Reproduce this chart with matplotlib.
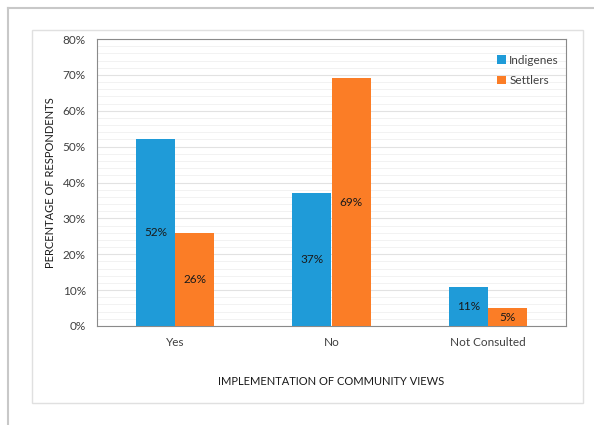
import numpy as np
import matplotlib
matplotlib.use("Agg")
from matplotlib import pyplot as plt
from matplotlib.patches import Rectangle
from matplotlib.lines import Line2D

categories = ["Yes", "No", "Not Consulted"]
indigenes = [52, 37, 11]
settlers = [26, 69, 5]
series_names = ["Indigenes", "Settlers"]

blue = "#1f9bd8"
orange = "#fb7d26"
txt = "#404040"

plt.rcParams['font.family'] = ['Lato', 'DejaVu Sans']

W, H = 594, 425
fig = plt.figure(figsize=(W / 100, H / 100), dpi=100)

# outer page frame lines
fig.add_artist(Line2D([8 / W, 1], [1 - 8 / H, 1 - 8 / H], color="#c8c8c8", lw=1.5))
fig.add_artist(Line2D([8 / W, 8 / W], [0, 1 - 8 / H], color="#c8c8c8", lw=1.5))
# chart area box
fig.add_artist(Rectangle((32 / W, 1 - 403 / H), (583 - 32) / W, (403 - 30) / H,
                         fill=False, edgecolor="#e0e0e0", lw=1))

ax = fig.add_axes([97 / W, 1 - 326 / H, (566 - 97) / W, (326 - 39) / H])

x = np.arange(len(categories))
w = 0.25
b1 = ax.bar(x - w / 2, indigenes, w, color=blue, label=series_names[0], zorder=3)
b2 = ax.bar(x + w / 2, settlers, w, color=orange, label=series_names[1], zorder=3)

for bars, vals in ((b1, indigenes), (b2, settlers)):
    for r, v in zip(bars, vals):
        ax.text(r.get_x() + r.get_width() / 2, v / 2, f"{v}%", ha="center", va="center",
                fontsize=8.5, color="#1a1a1a", zorder=4)

ax.set_xlim(-0.5, 2.5)
ax.set_ylim(0, 80)
ax.set_yticks(range(0, 81, 10))
ax.set_yticklabels([f"{t}%" for t in range(0, 81, 10)])
ax.set_yticks(range(0, 81, 2), minor=True)
ax.set_xticks(x)
ax.set_xticklabels(categories)
ax.tick_params(axis="both", length=0, labelsize=8.5, colors=txt, pad=8)
ax.tick_params(axis="y", which="minor", length=0)
ax.grid(axis="y", which="major", color="#e2e2e2", lw=0.8, zorder=0)
ax.grid(axis="y", which="minor", color="#f0f0f0", lw=0.6, zorder=0)
for s in ax.spines.values():
    s.set_color("#8a8a8a")
    s.set_linewidth(0.8)

ax.set_ylabel("PERCENTAGE OF RESPONDENTS", fontsize=8, color="#1a1a1a")
ax.yaxis.set_label_coords(-0.088, 0.5)
ax.set_xlabel("IMPLEMENTATION OF COMMUNITY VIEWS", fontsize=8, color="#1a1a1a", labelpad=20)

leg = ax.legend(loc="upper right", frameon=False, fontsize=8.5, handlelength=0.7,
                handleheight=0.7, handletextpad=0.3, labelspacing=0.8,
                borderaxespad=0.2, bbox_to_anchor=(1.0, 0.97))
for t in leg.get_texts():
    t.set_color(txt)

fig.savefig("out.png", dpi=100)
